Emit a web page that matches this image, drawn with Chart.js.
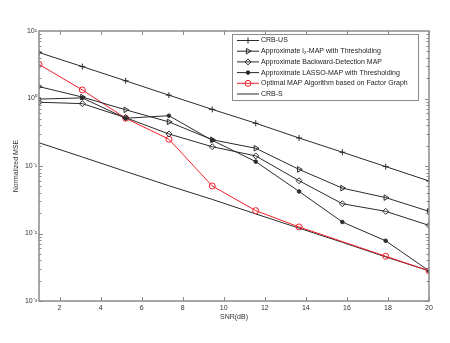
<!DOCTYPE html>
<html>
<head>
<meta charset="utf-8">
<script src="https://cdn.jsdelivr.net/npm/chart.js@4.4.1/dist/chart.umd.min.js"></script>
<style>
  html, body { margin: 0; padding: 0; background: #fff; }
  #wrap { width: 450px; height: 343px; position: relative; }
</style>
</head>
<body>
<div id="wrap"><canvas id="mseChart"></canvas></div>
<script>
// Datos
const snr = [1, 3.11, 5.22, 7.33, 9.44, 11.56, 13.67, 15.78, 17.89, 20];
const crbUS = [4.8, 2.97, 1.83, 1.12, 0.69, 0.43, 0.26, 0.16, 0.098, 0.060];
const l2Map = [1.50, 1.05, 0.68, 0.45, 0.245, 0.183, 0.089, 0.047, 0.034, 0.0213];
const backDetMap = [0.88, 0.84, 0.52, 0.298, 0.193, 0.141, 0.0605, 0.0276, 0.0213, 0.0132];
const lassoMap = [0.98, 1.02, 0.51, 0.556, 0.24, 0.116, 0.042, 0.0148, 0.0078, 0.0028];
const optMap = [3.2, 1.34, 0.51, 0.249, 0.0506, 0.0218, 0.0125, null, 0.0046, 0.0028];
const crbS = [0.221, 0.136, 0.083, 0.051, 0.032, 0.0195, 0.012, 0.0074, 0.0045, 0.0028];

const xTicks = [2, 4, 6, 8, 10, 12, 14, 16, 18, 20];
const yTicks = [10, 1, 0.1, 0.01, 0.001];
const yTickLabels = ['10\u00B9', '10\u2070', '10\u207B\u00B9', '10\u207B\u00B2', '10\u207B\u00B3'];

const seriesNames = [
    'CRB-US',
    'Approximate l\u2082-MAP with Thresholding',
    'Approximate Backward-Detection MAP',
    'Approximate LASSO-MAP with Thresholding',
    'Optimal MAP Algorithm based on Factor Graph',
    'CRB-S'
];

const FONT = 'Liberation Sans, Arial, sans-serif';
const BLACK = '#2b2b2b';
const RED = '#f0202a';
const AXIS = '#8a8a8a';

function toPoints(values) {
    return snr.map((x, i) => ({ x: x, y: values[i] }));
}

function serie(label, values, color, style, radius, rotation, fill) {
    return {
        label: label,
        data: toPoints(values),
        borderColor: color,
        backgroundColor: fill ? color : '#fff',
        borderWidth: 1,
        pointStyle: style,
        pointRadius: radius,
        pointRotation: rotation || 0,
        pointBorderWidth: 1,
        pointBorderColor: color,
        pointBackgroundColor: fill ? color : 'rgba(0,0,0,0)',
        spanGaps: true,
        tension: 0
    };
}

const datasets = [
    serie(seriesNames[0], crbUS, BLACK, 'cross', 3, 0, false),
    serie(seriesNames[1], l2Map, BLACK, 'triangle', 3.2, 90, false),
    serie(seriesNames[2], backDetMap, BLACK, 'rectRot', 3, 0, false),
    serie(seriesNames[3], lassoMap, BLACK, 'circle', 1.8, 0, true),
    serie(seriesNames[4], optMap, RED, 'circle', 3, 0, false),
    serie(seriesNames[5], crbS, BLACK, false, 0, 0, false)
];

// Caja, ticks hacia adentro y leyenda estilo MATLAB
const matlabFrame = {
    id: 'matlabFrame',
    afterDatasetsDraw(chart) {
        const ctx = chart.ctx;
        const a = chart.chartArea;
        const xs = chart.scales.x;
        const ys = chart.scales.y;
        ctx.save();

        ctx.strokeStyle = AXIS;
        ctx.lineWidth = 1;
        // ticks eje x
        xTicks.forEach(v => {
            const px = Math.round(xs.getPixelForValue(v)) + 0.5;
            ctx.beginPath();
            ctx.moveTo(px, a.bottom); ctx.lineTo(px, a.bottom - 4);
            ctx.moveTo(px, a.top); ctx.lineTo(px, a.top + 4);
            ctx.stroke();
        });
        // ticks eje y (mayores y menores)
        for (let e = -3; e <= 0; e++) {
            for (let m = 1; m <= 9; m++) {
                const v = m * Math.pow(10, e);
                const py = Math.round(ys.getPixelForValue(v)) + 0.5;
                const len = m === 1 ? 4 : 2.5;
                ctx.beginPath();
                ctx.moveTo(a.left, py); ctx.lineTo(a.left + len, py);
                ctx.moveTo(a.right, py); ctx.lineTo(a.right - len, py);
                ctx.stroke();
            }
        }
        // caja
        ctx.lineWidth = 1.5;
        ctx.strokeRect(a.left, a.top, a.right - a.left, a.bottom - a.top);

        // leyenda
        const lx = 232, ly = 34, lw = 186, lh = 66;
        ctx.fillStyle = '#fff';
        ctx.fillRect(lx, ly, lw, lh);
        ctx.lineWidth = 1;
        ctx.strokeStyle = AXIS;
        ctx.strokeRect(lx + 0.5, ly + 0.5, lw, lh);
        ctx.font = '7px ' + FONT;
        ctx.textBaseline = 'middle';
        chart.data.datasets.forEach((ds, i) => {
            const yy = ly + 6.5 + i * 10.7;
            ctx.strokeStyle = ds.borderColor;
            ctx.lineWidth = 1;
            ctx.beginPath();
            ctx.moveTo(lx + 5, yy); ctx.lineTo(lx + 27, yy);
            ctx.stroke();
            if (ds.pointRadius > 0 && Chart.helpers && Chart.helpers.drawPoint) {
                ctx.fillStyle = ds.pointBackgroundColor;
                Chart.helpers.drawPoint(ctx, {
                    pointStyle: ds.pointStyle,
                    rotation: ds.pointRotation,
                    radius: ds.pointRadius,
                    borderWidth: 1
                }, lx + 16, yy);
            }
            ctx.fillStyle = '#222';
            ctx.fillText(ds.label, lx + 29, yy);
        });
        ctx.restore();
    }
};

new Chart(document.getElementById('mseChart').getContext('2d'), {
    type: 'line',
    data: { datasets: datasets },
    options: {
        responsive: true,
        maintainAspectRatio: false,
        animation: false,
        layout: { padding: { top: 31, right: 21, left: 12, bottom: 22 } },
        plugins: {
            legend: { display: false },
            tooltip: { enabled: false }
        },
        scales: {
            x: {
                type: 'linear',
                min: 1,
                max: 20,
                grid: { display: false, drawTicks: false },
                border: { display: false },
                afterBuildTicks: s => { s.ticks = xTicks.map(v => ({ value: v })); },
                afterFit: s => { s.height = 20; },
                ticks: {
                    padding: 3,
                    color: '#333',
                    font: { family: FONT, size: 7 },
                    maxRotation: 0,
                    callback: v => String(v)
                },
                title: {
                    display: true,
                    text: 'SNR(dB)',
                    color: '#333',
                    font: { family: FONT, size: 7 },
                    padding: { top: 0, bottom: 0 }
                }
            },
            y: {
                type: 'logarithmic',
                min: 0.001,
                max: 10,
                grid: { display: false, drawTicks: false },
                border: { display: false },
                afterBuildTicks: s => { s.ticks = yTicks.map(v => ({ value: v })); },
                afterFit: s => { s.width = 27; },
                ticks: {
                    padding: 2,
                    color: '#333',
                    font: { family: FONT, size: 7 },
                    callback: function(value) {
                        const i = yTicks.findIndex(t => Math.abs(t - value) / t < 1e-6);
                        return i >= 0 ? yTickLabels[i] : '';
                    }
                },
                title: {
                    display: true,
                    text: 'Normalized MSE',
                    color: '#333',
                    font: { family: FONT, size: 7 },
                    padding: { top: 0, bottom: 0 }
                }
            }
        }
    },
    plugins: [matlabFrame]
});
</script>
</body>
</html>
